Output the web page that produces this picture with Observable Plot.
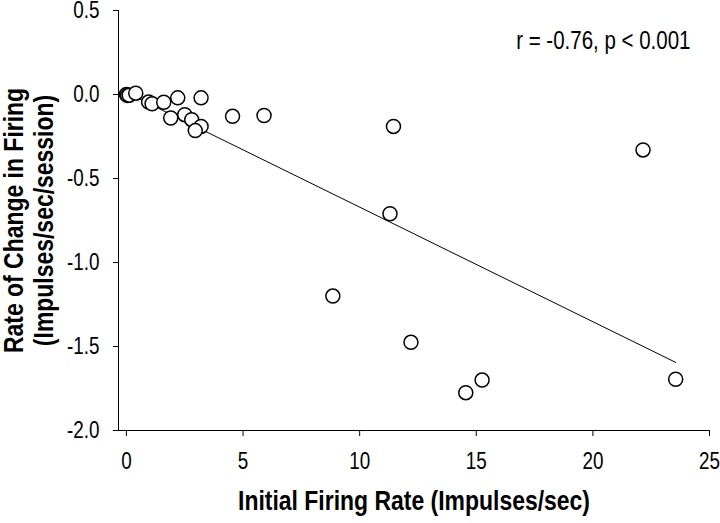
<!DOCTYPE html>
<html>
<head>
<meta charset="utf-8">
<script src="https://cdn.jsdelivr.net/npm/d3@7"></script>
<script src="https://cdn.jsdelivr.net/npm/@observablehq/plot@0.6"></script>
<style>
  html, body { margin: 0; padding: 0; background: #fff; }
  #chart svg { display: block; }
</style>
</head>
<body>
<div id="chart"></div>
<script>
// Initial firing rate (impulses/sec)
const initialRate = [0.0, 0.05, 0.12, 0.4, 0.95, 1.1, 1.6, 2.2, 3.2, 1.9, 2.5, 2.8, 3.2, 2.95, 4.55, 5.9, 11.45, 11.3, 8.85, 12.2, 14.55, 15.25, 22.15, 23.55];
// Rate of change in firing (impulses/sec/session)
const changeRate = [0.0, -0.006, -0.004, 0.008, -0.045, -0.055, -0.046, -0.02, -0.02, -0.14, -0.12, -0.15, -0.19, -0.215, -0.13, -0.125, -0.19, -0.71, -1.2, -1.475, -1.775, -1.70, -0.33, -1.695];
// Fitted regression line
const fitSlope = -0.0682;
const fitIntercept = 0.0115;
const annotation = "r = -0.76, p < 0.001";
const xTicks = [0, 5, 10, 15, 20, 25];
const yTicks = [0.5, 0.0, -0.5, -1.0, -1.5, -2.0];
const xTitle = "Initial Firing Rate (Impulses/sec)";
const yTitle1 = "Rate of Change in Firing";
const yTitle2 = "(Impulses/sec/session)";

const points = initialRate.map((x, i) => ({x, y: changeRate[i]}));
const [xMin, xMax] = d3.extent(initialRate);
const fitLine = [xMin, xMax].map(x => ({x, y: fitIntercept + fitSlope * x}));

const FONT = "'Liberation Sans Narrow', 'Arial Narrow', 'Liberation Sans', Arial, sans-serif";

const chart = Plot.plot({
  width: 720,
  height: 523,
  marginLeft: 118,
  marginRight: 11,
  marginTop: 10,
  marginBottom: 93,
  style: {fontFamily: FONT, fontSize: "23px", color: "#000", background: "#fff", overflow: "visible"},
  x: {domain: [-0.34, 25]},
  y: {domain: [-2, 0.5]},
  marks: [
    Plot.ruleY([-2], {x1: -0.56, x2: 25, stroke: "#000", strokeWidth: 1}),
    Plot.ruleX([-0.34], {y1: -2, y2: 0.5, stroke: "#000", strokeWidth: 1}),
    Plot.axisX({ticks: xTicks, tickSize: 6, tickPadding: 16, label: null, fontSize: 23, stroke: "#000"}),
    Plot.axisY({ticks: yTicks, tickSize: 5, tickPadding: 14, label: null, fontSize: 23, tickFormat: d => d.toFixed(1), stroke: "#000"}),
    Plot.line(fitLine, {x: "x", y: "y", stroke: "#000", strokeWidth: 1}),
    Plot.dot(points, {x: "x", y: "y", r: 7, fill: "#fff", stroke: "#000", strokeWidth: 1.5}),
    Plot.text([annotation], {frameAnchor: "top-right", dx: -19, dy: 30, text: d => d, textAnchor: "end", lineAnchor: "middle", fontSize: 25, fill: "#000"}),
    Plot.text([xTitle], {frameAnchor: "bottom", dy: 71, text: d => d, textAnchor: "middle", lineAnchor: "middle", fontSize: 28, fontWeight: "bold", fill: "#000"}),
    Plot.text([yTitle1], {frameAnchor: "left", dx: -104, rotate: -90, text: d => d, textAnchor: "middle", lineAnchor: "middle", fontSize: 28, fontWeight: "bold", fill: "#000"}),
    Plot.text([yTitle2], {frameAnchor: "left", dx: -74, rotate: -90, text: d => d, textAnchor: "middle", lineAnchor: "middle", fontSize: 28, fontWeight: "bold", fill: "#000"})
  ]
});

// Condense all text horizontally (narrow, Arial-Narrow-like lettering), keeping each anchor fixed
chart.querySelectorAll("text").forEach(t => {
  const x = +t.getAttribute("x") || 0;
  const tr = t.getAttribute("transform") || "";
  t.setAttribute("transform", `${tr} translate(${x},0) scale(0.82,1) translate(${-x},0)`);
});

document.getElementById("chart").appendChild(chart);
</script>
</body>
</html>
